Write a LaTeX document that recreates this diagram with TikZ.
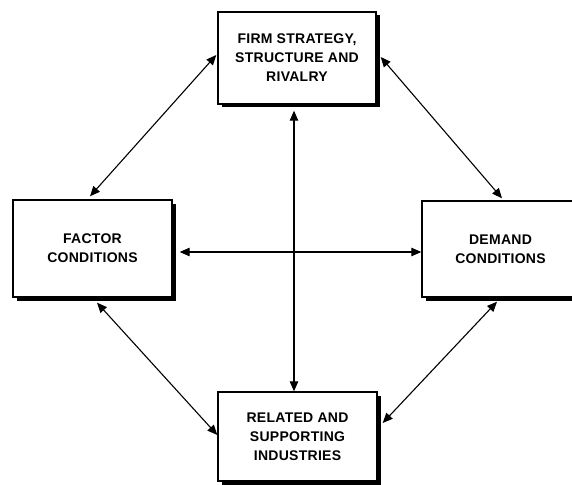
\documentclass[tikz,border=0pt]{standalone}
\usepackage{fontspec}
\setmainfont{Liberation Sans}[LetterSpace=2]
\usetikzlibrary{arrows.meta,shadows}
\begin{document}
\begin{tikzpicture}[x=1pt,y=-1pt,
  box/.style={draw, line width=1.4pt, fill=white, align=center,
    font=\fontsize{14}{19}\selectfont\bfseries, inner sep=0pt,
    drop shadow={shadow xshift=3.5pt, shadow yshift=-3.5pt, opacity=1, fill=black}},
  link/.style={line width=1.1pt, {Triangle[length=10pt,width=8.5pt]}-{Triangle[length=10pt,width=8.5pt]}}]
\useasboundingbox (0,0) rectangle (572,484);
\clip (0,0) rectangle (572,484);
\node[box, minimum width=158pt, minimum height=92pt] (firm) at (297,58) {FIRM STRATEGY,\\ STRUCTURE AND\\ RIVALRY};
\node[box, minimum width=159pt, minimum height=97pt] (factor) at (92.5,248.5) {FACTOR\\ CONDITIONS};
\node[box, minimum width=157pt, minimum height=96pt] (demand) at (500.5,249) {DEMAND\\ CONDITIONS};
\node[box, minimum width=159pt, minimum height=89pt] (related) at (297.5,436.5) {RELATED AND\\ SUPPORTING\\ INDUSTRIES};
\draw[link] ([shift={(-2.5pt,3pt)}]factor.north) -- ([shift={(-1pt,3pt)}]firm.west);
\draw[link] ([shift={(4pt,1pt)}]firm.east) -- ([shift={(1.5pt,2pt)}]demand.north);
\draw[link] ([shift={(-3pt,-6pt)}]firm.south) -- ([shift={(-3.5pt,0pt)}]related.north);
\draw[link] ([shift={(7pt,-3.5pt)}]factor.east) -- ([shift={(0pt,-3pt)}]demand.west);
\draw[link] ([shift={(4.5pt,-5pt)}]factor.south) -- ([shift={(0pt,1.5pt)}]related.west);
\draw[link] ([shift={(-3.5pt,-4pt)}]demand.south) -- ([shift={(5pt,13.5pt)}]related.east);
\end{tikzpicture}
\end{document}
